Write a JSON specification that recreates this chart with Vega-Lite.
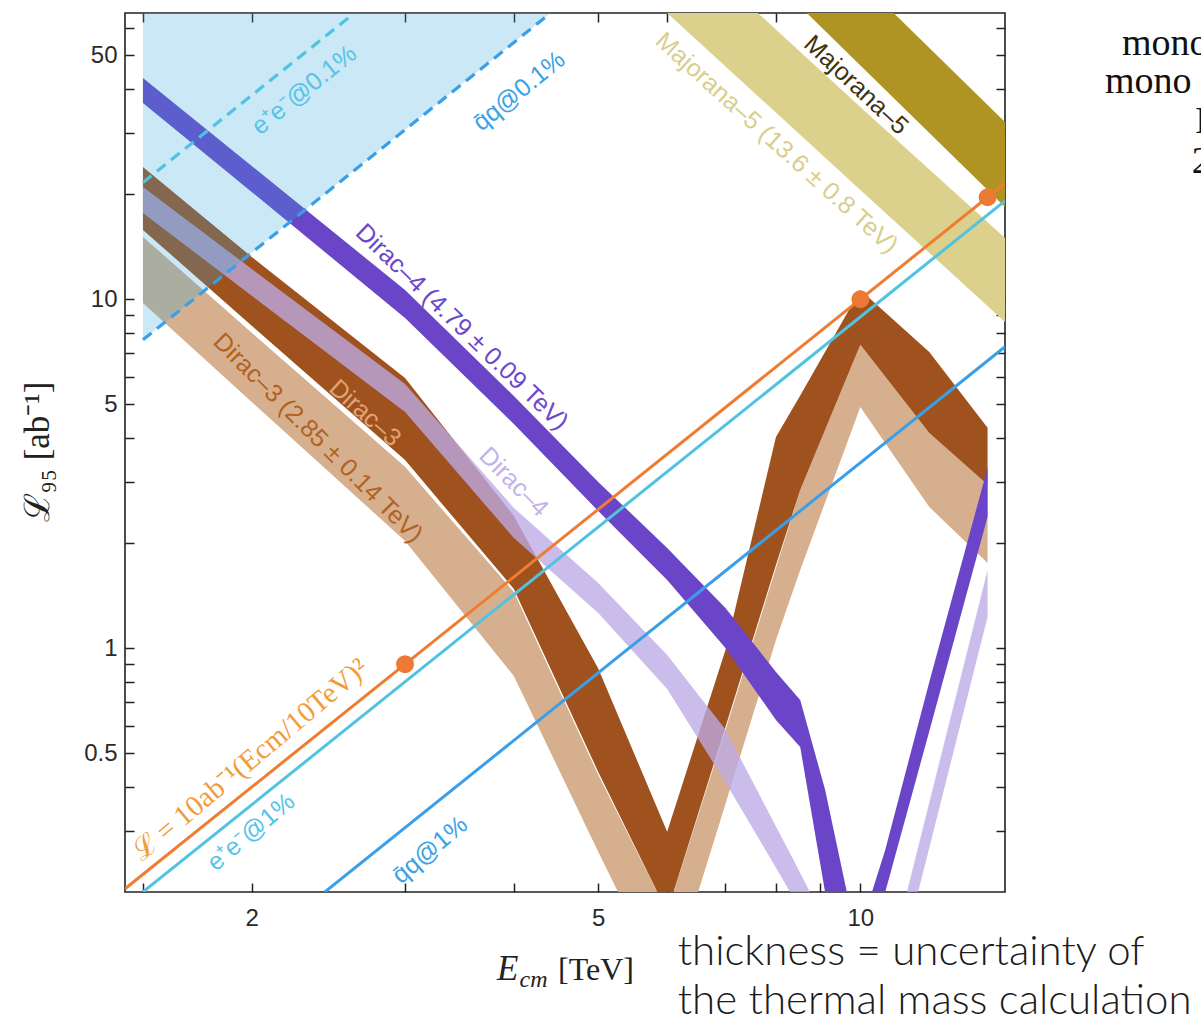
{
  "$schema": "https://vega.github.io/schema/vega-lite/v6.json",
  "width": 880,
  "height": 879,
  "autosize": {"type": "none"},
  "padding": {"left": 125, "top": 13, "right": 196, "bottom": 129},
  "background": "white",
  "config": {
    "view": {"stroke": "#222222", "strokeWidth": 1.6},
    "axis": {"grid": false, "domain": false, "title": null}
  },
  "datasets": {
    "m5l": [
      {"E": 6.0, "L": 66.1, "L2": 114.3},
      {"E": 10.0, "L": 20.57, "L2": 35.56},
      {"E": 14.66, "L": 8.61, "L2": 14.98}
    ],
    "m5": [
      {"E": 8.68, "L": 66.1, "L2": 115.8},
      {"E": 14.66, "L": 18.38, "L2": 32.21}
    ],
    "d3l": [
      {"E": 1.5, "L": 9.76, "L2": 15.09},
      {"E": 2, "L": 5.08, "L2": 8.01},
      {"E": 3, "L": 2.03, "L2": 3.31},
      {"E": 4, "L": 0.833, "L2": 1.45},
      {"E": 5, "L": 0.261, "L2": 0.434},
      {"E": 6, "L": 0.1035, "L2": 0.1755},
      {"E": 7, "L": 0.358, "L2": 0.583},
      {"E": 8, "L": 1.056, "L2": 1.699},
      {"E": 8.53, "L": 1.676, "L2": 2.84},
      {"E": 10, "L": 4.91, "L2": 7.40},
      {"E": 12, "L": 2.54, "L2": 4.14},
      {"E": 14, "L": 1.756, "L2": 2.94}
    ],
    "d3": [
      {"E": 1.5, "L": 15.80, "L2": 23.93},
      {"E": 2, "L": 8.40, "L2": 13.22},
      {"E": 3, "L": 3.46, "L2": 5.95},
      {"E": 4, "L": 1.479, "L2": 2.394},
      {"E": 5, "L": 0.442, "L2": 0.875},
      {"E": 6, "L": 0.1755, "L2": 0.298},
      {"E": 7, "L": 0.595, "L2": 0.989},
      {"E": 8, "L": 1.733, "L2": 4.03},
      {"E": 8.53, "L": 2.84, "L2": 5.3},
      {"E": 10, "L": 7.40, "L2": 10.63},
      {"E": 12, "L": 4.14, "L2": 7.06},
      {"E": 14, "L": 2.94, "L2": 4.28}
    ],
    "d4l": [
      {"E": 1.5, "L": 17.67, "L2": 20.98},
      {"E": 2, "L": 10.23, "L2": 12.21},
      {"E": 3, "L": 4.75, "L2": 5.72},
      {"E": 4, "L": 2.070, "L2": 2.523},
      {"E": 5, "L": 1.262, "L2": 1.538},
      {"E": 6, "L": 0.7646, "L2": 0.957},
      {"E": 7, "L": 0.413, "L2": 0.5848},
      {"E": 8, "L": 0.235, "L2": 0.3082},
      {"E": 8.306, "L": 0.200, "L2": 0.258},
      {"E": 8.754, "L": 0.156, "L2": 0.200},
      {"E": 10, "L": 0.05, "L2": 0.09},
      {"E": 11.31, "L": 0.151, "L2": 0.200},
      {"E": 11.65, "L": 0.200, "L2": 0.2687},
      {"E": 14, "L": 1.229, "L2": 1.676}
    ],
    "d4": [
      {"E": 1.5, "L": 36.51, "L2": 43.07},
      {"E": 2, "L": 20.30, "L2": 24.09},
      {"E": 3, "L": 8.84, "L2": 10.63},
      {"E": 4, "L": 4.393, "L2": 5.284},
      {"E": 5, "L": 2.474, "L2": 2.996},
      {"E": 6, "L": 1.569, "L2": 1.938},
      {"E": 7, "L": 1.002, "L2": 1.305},
      {"E": 8, "L": 0.623, "L2": 0.855},
      {"E": 8.53, "L": 0.521, "L2": 0.711},
      {"E": 9.11, "L": 0.200, "L2": 0.393},
      {"E": 9.65, "L": 0.098, "L2": 0.200},
      {"E": 10, "L": 0.051, "L2": 0.098},
      {"E": 10.31, "L": 0.098, "L2": 0.200},
      {"E": 10.68, "L": 0.200, "L2": 0.264},
      {"E": 12, "L": 0.578, "L2": 0.800},
      {"E": 14, "L": 2.38, "L2": 3.29}
    ],
    "fill": [
      {"E": 1.5, "L": 7.65, "L2": 100},
      {"E": 4.41, "L": 66.12, "L2": 100}
    ],
    "lines": [
      {"k": "lumi", "c": "#ee7d32", "E": 1.4305, "L": 0.2046},
      {"k": "lumi", "c": "#ee7d32", "E": 14.66, "L": 21.49},
      {"k": "ee1", "c": "#4fc3e0", "E": 1.5, "L": 0.2003},
      {"k": "ee1", "c": "#4fc3e0", "E": 14.66, "L": 19.13},
      {"k": "qq1", "c": "#3a9fe8", "E": 2.425, "L": 0.2},
      {"k": "qq1", "c": "#3a9fe8", "E": 14.66, "L": 7.307}
    ],
    "dashed": [
      {"k": "ee01", "c": "#4fc3e0", "E": 1.5, "L": 21.6},
      {"k": "ee01", "c": "#4fc3e0", "E": 2.62, "L": 65.9},
      {"k": "qq01", "c": "#3a9fe8", "E": 1.5, "L": 7.65},
      {"k": "qq01", "c": "#3a9fe8", "E": 4.41, "L": 66.12}
    ],
    "dots": [
      {"E": 3, "L": 0.9},
      {"E": 10, "L": 10},
      {"E": 14, "L": 19.6}
    ],
    "labels": [
      {"E": 2.297, "L": 39.8, "t": "e⁺e⁻@0.1%", "a": -39, "c": "#55c4e6"},
      {"E": 4.055, "L": 39.5, "t": "q̄q@0.1%", "a": -39, "c": "#3aa2e6"},
      {"E": 8.02, "L": 28.05, "t": "Majorana–5 (13.6 ± 0.8 TeV)", "a": 42, "c": "#d9ce8c"},
      {"E": 9.89, "L": 41.1, "t": "Majorana–5", "a": 43, "c": "#3d3310"},
      {"E": 3.488, "L": 8.33, "t": "Dirac–4 (4.79 ± 0.09 TeV)", "a": 44, "c": "#6a48cc"},
      {"E": 2.384, "L": 4.005, "t": "Dirac–3 (2.85 ± 0.14 TeV)", "a": 45, "c": "#b4601e"},
      {"E": 2.699, "L": 4.72, "t": "Dirac–3", "a": 42, "c": "#e0a474"},
      {"E": 4.0, "L": 2.996, "t": "Dirac–4", "a": 45, "c": "#c2b2ec"},
      {"E": 1.996, "L": 0.2976, "t": "e⁺e⁻@1%", "a": -40, "c": "#55c4e6"},
      {"E": 3.204, "L": 0.2643, "t": "q̄q@1%", "a": -40, "c": "#3aa2e6"}
    ]
  },
  "encoding": {
    "x": {"field": "E", "type": "quantitative", "scale": {"type": "log", "domain": [1.4305, 14.66], "nice": false}, "axis": null},
    "y": {"field": "L", "type": "quantitative", "scale": {"type": "log", "domain": [0.2002, 66.1], "nice": false}, "axis": null}
  },
  "layer": [
    {
      "data": {"name": "m5l"},
      "mark": {"type": "area", "clip": true, "color": "#dbd08c"},
      "encoding": {
        "x": {"field": "E", "type": "quantitative", "scale": {"type": "log", "domain": [1.4305, 14.66], "nice": false},
          "axis": {"orient": "bottom", "values": [1.5, 2, 3, 4, 5, 6, 7, 8, 9, 10],
            "labelExpr": "indexof([2, 5, 10], datum.value) >= 0 ? datum.value + '' : ''",
            "tickSize": -9, "tickWidth": 1.5, "tickColor": "#222222",
            "labelFont": "Liberation Sans", "labelFontSize": 24, "labelColor": "#2a2a2a", "labelPadding": 23,
            "labelOverlap": false, "labelBound": false, "labelFlush": false}},
        "y": {"field": "L", "type": "quantitative", "scale": {"type": "log", "domain": [0.2002, 66.1], "nice": false},
          "axis": {"orient": "left", "values": [0.3, 0.4, 0.5, 0.6, 0.7, 0.8, 0.9, 1, 2, 3, 4, 5, 6, 7, 8, 9, 10, 20, 30, 40, 50, 60],
            "labelExpr": "indexof([0.5, 1, 5, 10, 50], datum.value) >= 0 ? datum.value + '' : ''",
            "tickSize": -9, "tickWidth": 1.5, "tickColor": "#222222",
            "labelFont": "Liberation Sans", "labelFontSize": 24, "labelColor": "#2a2a2a", "labelPadding": 17,
            "labelOverlap": false, "labelBound": false, "labelFlush": false}},
        "y2": {"field": "L2"}
      }
    },
    {
      "data": {"name": "m5"},
      "mark": {"type": "area", "clip": true, "color": "#af9423"},
      "encoding": {
        "x": {"field": "E", "type": "quantitative", "scale": {"type": "log", "domain": [1.4305, 14.66], "nice": false},
          "axis": {"orient": "top", "values": [1.5, 2, 3, 4, 5, 6, 7, 8, 9, 10], "labels": false,
            "tickSize": -9, "tickWidth": 1.5, "tickColor": "#222222"}},
        "y": {"field": "L", "type": "quantitative", "scale": {"type": "log", "domain": [0.2002, 66.1], "nice": false},
          "axis": {"orient": "right", "values": [0.3, 0.4, 0.5, 0.6, 0.7, 0.8, 0.9, 1, 2, 3, 4, 5, 6, 7, 8, 9, 10, 20, 30, 40, 50, 60], "labels": false,
            "tickSize": -9, "tickWidth": 1.5, "tickColor": "#222222"}},
        "y2": {"field": "L2"}
      }
    },
    {
      "data": {"name": "d3l"},
      "mark": {"type": "area", "clip": true, "color": "#d6b08e"},
      "encoding": {"y2": {"field": "L2"}}
    },
    {
      "data": {"name": "d3"},
      "mark": {"type": "area", "clip": true, "color": "#a0521e"},
      "encoding": {"y2": {"field": "L2"}}
    },
    {
      "data": {"name": "d4l"},
      "mark": {"type": "area", "clip": true, "color": "#bdaae6", "opacity": 0.78},
      "encoding": {"y2": {"field": "L2"}}
    },
    {
      "data": {"name": "d4"},
      "mark": {"type": "area", "clip": true, "color": "#6a45c8"},
      "encoding": {"y2": {"field": "L2"}}
    },
    {
      "data": {"name": "fill"},
      "mark": {"type": "area", "clip": true, "color": "#33a6d8", "opacity": 0.26},
      "encoding": {"y2": {"field": "L2"}}
    },
    {
      "data": {"name": "lines"},
      "mark": {"type": "line", "clip": true, "strokeWidth": 3},
      "encoding": {
        "detail": {"field": "k", "type": "nominal"},
        "color": {"field": "c", "type": "nominal", "scale": null}
      }
    },
    {
      "data": {"name": "dashed"},
      "mark": {"type": "line", "clip": true, "strokeWidth": 3.2, "strokeDash": [11, 7]},
      "encoding": {
        "detail": {"field": "k", "type": "nominal"},
        "color": {"field": "c", "type": "nominal", "scale": null}
      }
    },
    {
      "data": {"name": "dots"},
      "mark": {"type": "point", "filled": true, "size": 320, "color": "#ec7a34", "opacity": 1}
    },
    {
      "data": {"name": "labels"},
      "mark": {"type": "text", "font": "Liberation Sans", "fontSize": 25, "align": "center", "baseline": "middle"},
      "encoding": {
        "text": {"field": "t"},
        "angle": {"field": "a", "type": "quantitative", "scale": null},
        "color": {"field": "c", "type": "nominal", "scale": null}
      }
    },
    {
      "data": {"values": [{"E": 1.991, "L": 0.4786, "t": "ℒ = 10ab⁻¹(Ecm/10TeV)²"}]},
      "mark": {"type": "text", "font": "Liberation Serif", "fontSize": 29, "angle": 320, "align": "center", "baseline": "middle", "color": "#f29b3a"},
      "encoding": {"text": {"field": "t"}}
    },
    {
      "data": {"values": [{"E": 1.138, "L": 3.65, "t": "ℒ₉₅ [ab⁻¹]"}]},
      "mark": {"type": "text", "font": "Liberation Serif", "fontSize": 35, "angle": 270, "align": "center", "baseline": "middle", "color": "#222222"},
      "encoding": {"text": {"field": "t"}}
    },
    {
      "data": {"values": [{"E": 3.826, "L": 0.1121, "t": "E", "s": 35}, {"E": 4.06, "L": 0.1071, "t": "cm", "s": 24}]},
      "mark": {"type": "text", "font": "Liberation Serif", "fontStyle": "italic", "align": "left", "baseline": "alphabetic", "color": "#222222"},
      "encoding": {"text": {"field": "t"}, "size": {"field": "s", "type": "quantitative", "scale": null}}
    },
    {
      "data": {"values": [{"E": 4.496, "L": 0.1121, "t": "[TeV]"}]},
      "mark": {"type": "text", "font": "Liberation Serif", "fontSize": 32, "align": "left", "baseline": "alphabetic", "color": "#222222"},
      "encoding": {"text": {"field": "t"}}
    },
    {
      "data": {"values": [
        {"E": 6.17, "L": 0.1238, "t": "thickness = uncertainty of"},
        {"E": 6.17, "L": 0.0896, "t": "the thermal mass calculation"}
      ]},
      "mark": {"type": "text", "font": "Lato", "fontWeight": 300, "fontSize": 42, "align": "left", "baseline": "alphabetic", "color": "#1a1a1a"},
      "encoding": {"text": {"field": "t"}}
    },
    {
      "data": {"values": [
        {"E": 19.97, "L": 50.1, "t": "mono"},
        {"E": 19.10, "L": 38.9, "t": "mono"},
        {"E": 24.23, "L": 29.96, "t": "I"},
        {"E": 24.02, "L": 23.0, "t": "2"}
      ]},
      "mark": {"type": "text", "font": "Liberation Serif", "fontSize": 38, "align": "left", "baseline": "alphabetic", "color": "#111111"},
      "encoding": {"text": {"field": "t"}}
    }
  ],
  "resolve": {"axis": {"x": "independent", "y": "independent"}}
}
